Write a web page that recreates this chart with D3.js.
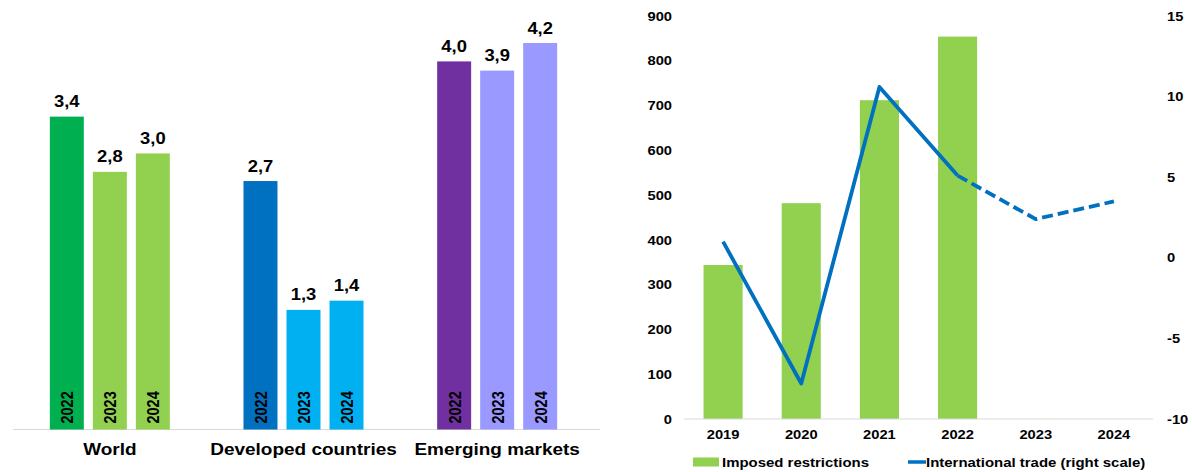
<!DOCTYPE html>
<html>
<head>
<meta charset="utf-8">
<script src="https://cdn.jsdelivr.net/npm/d3@7/dist/d3.min.js"></script>
<style>
  html, body { margin: 0; padding: 0; background: #fff; }
  svg { display: block; }
  text { font-family: "Liberation Sans", Arial, sans-serif; font-weight: bold; fill: #000; }
</style>
</head>
<body>
<svg id="chart" width="1192" height="472"></svg>
<script>
// ---- Growth outlook, % (left panel) ----
const regions = ["World", "Developed countries", "Emerging markets"];
const growthYears = ["2022", "2023", "2024"];
const worldGrowth = [3.4, 2.8, 3.0];
const developedGrowth = [2.7, 1.3, 1.4];
const emergingGrowth = [4.0, 3.9, 4.2];

// ---- Trade restrictions vs trade volume (right panel) ----
const tradeYears = ["2019", "2020", "2021", "2022", "2023", "2024"];
const restrictions = [344, 482, 712, 854];
const tradeGrowth = [1.0, -7.8, 10.6, 5.1, 2.4, 3.5];
const leftTicks = [0, 100, 200, 300, 400, 500, 600, 700, 800, 900];
const rightTicks = [-10, -5, 0, 5, 10, 15];
const legendLabels = ["Imposed restrictions", "International trade (right scale)"];

const growthByRegion = [worldGrowth, developedGrowth, emergingGrowth];
const regionPalette = [
  ["#00B050", "#92D050", "#92D050"],
  ["#0070C0", "#00B0F0", "#00B0F0"],
  ["#7030A0", "#9999FF", "#9999FF"]
];
const barGreen = "#92D050";
const lineBlue = "#0070C0";
const axisGrey = "#D9D9D9";
const SX = 1.15; // horizontal text stretch

const locale = d3.formatLocale({ decimal: ",", thousands: " ", grouping: [3], currency: ["", ""], minus: "-" });
const fmt1 = locale.format(".1f");
const fmtInt = locale.format("d");

const svg = d3.select("#chart");

// helper: stretched text at a point
function stretchedText(g, x, y, str, opts = {}) {
  const rot = opts.rotate ? ` rotate(${opts.rotate})` : "";
  return g.append("text")
    .attr("transform", `translate(${x},${y}) scale(${SX},1)${rot}`)
    .attr("text-anchor", opts.anchor || "middle")
    .attr("dominant-baseline", opts.baseline || "auto")
    .style("font-size", (opts.size || 13) + "px")
    .text(str);
}

// ================= Left panel =================
const L = svg.append("g");
const baseY = 429.5;
const xGroup = d3.scaleBand().domain(regions).range([13, 594]);
const xInner = d3.scaleBand().domain(growthYears).range([0, 120]).paddingInner(0.21).paddingOuter(0);
const yGrowth = d3.scaleLinear().domain([0, 4.2]).range([baseY, 43]);

L.append("line")
  .attr("x1", 13).attr("x2", 600)
  .attr("y1", baseY).attr("y2", baseY)
  .attr("stroke", axisGrey).attr("stroke-width", 1.2);

regions.forEach((r, ri) => {
  const gx = xGroup(r) + xGroup.bandwidth() / 2 - 60;
  growthYears.forEach((yr, yi) => {
    const v = growthByRegion[ri][yi];
    const x = gx + xInner(yr);
    const w = xInner.bandwidth();
    L.append("rect")
      .attr("x", x).attr("y", yGrowth(v))
      .attr("width", w).attr("height", baseY - yGrowth(v))
      .attr("fill", regionPalette[ri][yi]);
    stretchedText(L, x + w / 2, yGrowth(v) - 9.5, fmt1(v), { size: 16 });
    stretchedText(L, x + w / 2 + 0.5, baseY - 6, yr, { size: 14.5, rotate: -90, anchor: "start", baseline: "central" });
  });
  stretchedText(L, xGroup(r) + xGroup.bandwidth() / 2, 455, r, { size: 16.5 });
});

// ================= Right panel =================
const R = svg.append("g");
const plotTop = 16, plotBottom = 419;
const xTrade = d3.scaleBand().domain(tradeYears).range([684, 1153]).paddingInner(0.5).paddingOuter(0.25);
const xPoint = d => xTrade(d) + xTrade.bandwidth() / 2;
const yLeft = d3.scaleLinear().domain([0, 900]).range([plotBottom, plotTop]);
const yRight = d3.scaleLinear().domain([-10, 15]).range([plotBottom, plotTop]);

// bars
R.selectAll("rect.restr")
  .data(restrictions)
  .join("rect")
  .attr("class", "restr")
  .attr("x", (d, i) => xTrade(tradeYears[i]))
  .attr("y", d => yLeft(d))
  .attr("width", xTrade.bandwidth())
  .attr("height", d => plotBottom - yLeft(d))
  .attr("fill", barGreen);

// baseline
R.append("line")
  .attr("x1", 684).attr("x2", 1153)
  .attr("y1", plotBottom).attr("y2", plotBottom)
  .attr("stroke", axisGrey).attr("stroke-width", 1.2);

// left axis
const axL = R.append("g").attr("transform", "translate(672,0)")
  .call(d3.axisLeft(yLeft).tickValues(leftTicks).tickFormat(fmtInt).tickSize(0).tickPadding(0));
axL.select(".domain").remove();
axL.selectAll("text")
  .attr("x", 0).attr("dy", null)
  .attr("dominant-baseline", "central")
  .attr("transform", `scale(${SX},1)`)
  .style("font-size", "12.8px");
axL.attr("font-family", null).attr("font-size", null);

// right axis
const axR = R.append("g").attr("transform", "translate(1167,0)")
  .call(d3.axisRight(yRight).tickValues(rightTicks).tickFormat(fmtInt).tickSize(0).tickPadding(0));
axR.select(".domain").remove();
axR.selectAll("text")
  .attr("x", 0).attr("dy", null)
  .attr("dominant-baseline", "central")
  .attr("transform", `scale(${SX},1)`)
  .style("font-size", "12.8px");
axR.attr("font-family", null).attr("font-size", null);

// category axis
const axX = R.append("g").attr("transform", `translate(0,${plotBottom})`)
  .call(d3.axisBottom(xTrade).tickSize(0).tickPadding(0));
axX.select(".domain").remove();
axX.selectAll(".tick text")
  .attr("y", 0).attr("dy", null)
  .attr("transform", `translate(0,20) scale(${SX},1)`)
  .style("font-size", "12.8px");
axX.attr("font-family", null).attr("font-size", null);

// trade line: actual (solid) and projection (dashed)
const line = d3.line()
  .x(d => d.x)
  .y(d => yRight(d.v));
const pts = tradeGrowth.map((v, i) => ({ x: xPoint(tradeYears[i]), v }));
R.append("path")
  .attr("d", line(pts.slice(0, 4)))
  .attr("fill", "none").attr("stroke", lineBlue)
  .attr("stroke-width", 3.8).attr("stroke-linejoin", "round");
R.append("path")
  .attr("d", line(pts.slice(3)))
  .attr("fill", "none").attr("stroke", lineBlue)
  .attr("stroke-width", 3.8).attr("stroke-dasharray", "11,5")
  .attr("stroke-linejoin", "round");

// legend
const leg = R.append("g");
leg.append("rect").attr("x", 693).attr("y", 457.5).attr("width", 26).attr("height", 9).attr("fill", barGreen);
stretchedText(leg, 722, 467, legendLabels[0], { size: 13, anchor: "start" });
leg.append("line").attr("x1", 908).attr("x2", 926).attr("y1", 462).attr("y2", 462)
  .attr("stroke", lineBlue).attr("stroke-width", 3.5);
stretchedText(leg, 926, 467, legendLabels[1], { size: 13, anchor: "start" });
</script>
</body>
</html>
